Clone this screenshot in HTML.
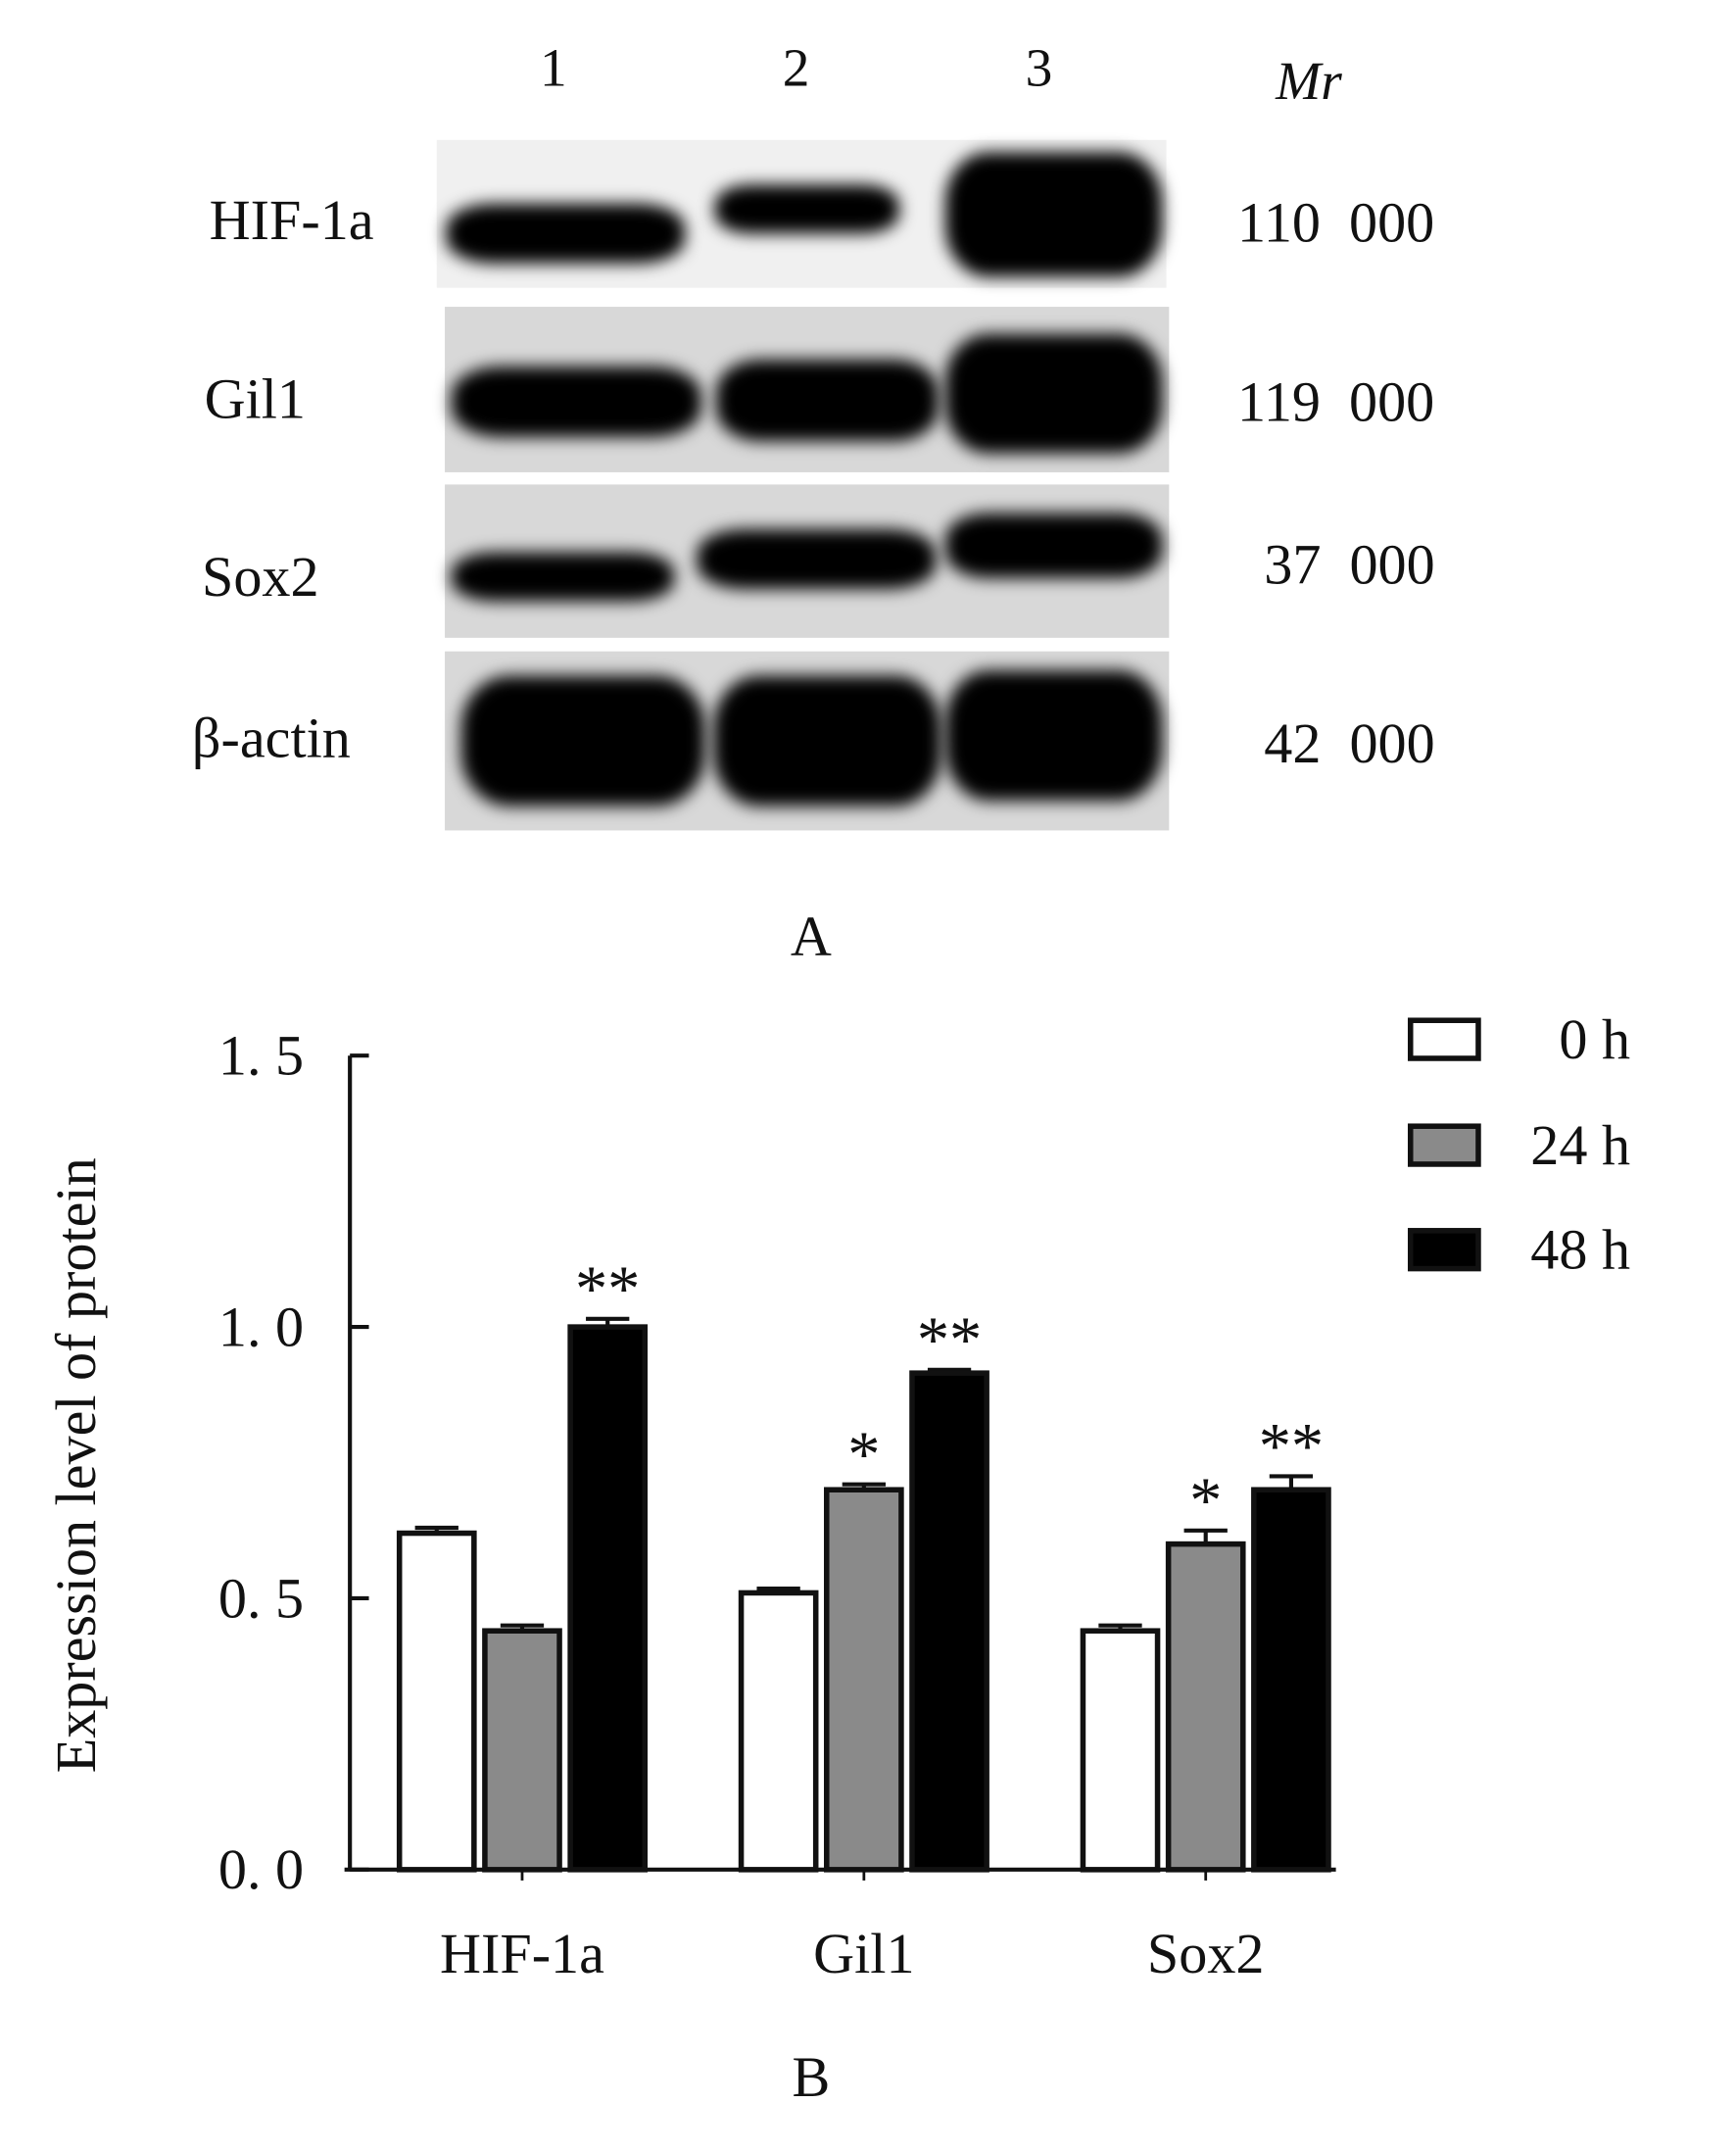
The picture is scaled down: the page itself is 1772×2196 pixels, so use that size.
<!DOCTYPE html>
<html><head><meta charset="utf-8"><style>
html,body{margin:0;padding:0;background:#fff;}
svg{display:block;}
text{font-family:"Liberation Serif",serif;fill:#111;white-space:pre;}
</style></head><body>
<svg id="fig" width="1772" height="2196" viewBox="0 0 1280 1586">
<defs>
<filter id="blur" x="-30%" y="-60%" width="160%" height="220%"><feGaussianBlur stdDeviation="6"/></filter>
</defs>
<g>
  <text x="408" y="63" font-size="40" text-anchor="middle">1</text>
  <text x="587" y="63" font-size="40" text-anchor="middle">2</text>
  <text x="766" y="63" font-size="40" text-anchor="middle">3</text>
  <text x="965" y="73" font-size="40" font-style="italic" text-anchor="middle">Mr</text>
  <g id="strips"></g>
  <text x="215" y="176" font-size="42" text-anchor="middle">HIF-1a</text>
  <text x="188" y="308" font-size="42" text-anchor="middle">Gil1</text>
  <text x="192" y="439" font-size="42" text-anchor="middle">Sox2</text>
  <text x="200" y="558" font-size="42" text-anchor="middle">β-actin</text>
  <text x="985" y="178" font-size="42" text-anchor="middle">110  000</text>
  <text x="985" y="310" font-size="42" text-anchor="middle">119  000</text>
  <text x="995" y="430" font-size="42" text-anchor="middle">37  000</text>
  <text x="995" y="562" font-size="42" text-anchor="middle">42  000</text>
  <text x="598" y="704" font-size="42" text-anchor="middle">A</text>
</g>
<g id="chart"></g>
<text x="598" y="1545" font-size="42" text-anchor="middle">B</text>
</svg>
<script>
const categories = ["HIF-1a", "Gil1", "Sox2"];
const seriesNames = ["0 h", "24 h", "48 h"];
const values0h = [0.62, 0.51, 0.44];
const values24h = [0.44, 0.70, 0.60];
const values48h = [1.00, 0.915, 0.70];
const errors0h = [0.01, 0.008, 0.01];
const errors24h = [0.01, 0.01, 0.025];
const errors48h = [0.015, 0.006, 0.025];
const stars24h = ["", "*", "*"];
const stars48h = ["**", "**", "**"];
const yTicks = [0, 0.5, 1.0, 1.5];
const yTickLabels = ["0. 0", "0. 5", "1. 0", "1. 5"];

const NS = "http://www.w3.org/2000/svg";
function mk(tag, attrs, parent){const e=document.createElementNS(NS,tag);for(const k in attrs)e.setAttribute(k,attrs[k]);parent.appendChild(e);return e;}

const strips = document.getElementById('strips');
const stripBoxes = [[322,103,538,109],[328,226,534,122],[328,357,534,113],[328,480,534,132]];
const bands = [
 [[417,172,88,22],[595,154,68,18],[777,158,80,46]],
 [[425,296,92,26],[610,295,82,30],[777,290,80,44]],
 [[415,425,82,18],[602,412,88,22],[777,402,80,24]],
 [[430,546,90,48],[610,546,84,48],[777,542,80,48]]
];
stripBoxes.forEach((b,i)=>{
  const r = mk('rect',{x:b[0],y:b[1],width:b[2],height:b[3],fill:i===0?'#f0f0f0':'#d8d8d8'},strips);
  
  
  bands[i].forEach(bd=>{
    const e = mk('rect',{x:bd[0]-bd[2],y:bd[1]-bd[3],width:2*bd[2],height:2*bd[3],rx:bd[2]*0.4,ry:bd[3]*0.8,fill:'#000',filter:'url(#blur)'},strips);
    
    
  });
});

const chart = document.getElementById('chart');
const x0 = 258, x1 = 985, yZero = 1378, pxPerUnit = 400;
const groupCenters0 = 385, groupStep = 252, barW = 55, barStep = 63;
const y = v => yZero - v*pxPerUnit;
const xBar = (g,s) => groupCenters0 + g*groupStep + (s-1)*barStep - barW/2;

const ax = mk('line',{x1:x0,y1:y(1.5),x2:x0,y2:yZero,stroke:'#111','stroke-width':3},chart);


const xa = mk('line',{x1:x0-4,y1:yZero,x2:x1,y2:yZero,stroke:'#111','stroke-width':3},chart);


yTicks.forEach((t,i)=>{
  const tk = mk('line',{x1:x0,y1:y(t),x2:x0+14,y2:y(t),stroke:'#111','stroke-width':3},chart);
  
  
  const tl = mk('text',{x:224,y:y(t)+14,'font-size':42,'text-anchor':'end'},chart);
  tl.textContent = yTickLabels[i];
  
  
});
const yt = mk('text',{x:70,y:1080,'font-size':42,'text-anchor':'middle',transform:'rotate(-90 70 1080)'},chart);
yt.textContent = 'Expression level of protein';



const series = [values0h, values24h, values48h];
const errs = [errors0h, errors24h, errors48h];
const fills = ['#ffffff','#8a8a8a','#000000'];
categories.forEach((c,g)=>{
  const cl = mk('text',{x:groupCenters0+g*groupStep,y:1454,'font-size':42,'text-anchor':'middle'},chart);
  cl.textContent = c;
  
  
  const tm = mk('line',{x1:groupCenters0+g*groupStep,y1:yZero,x2:groupCenters0+g*groupStep,y2:yZero+8,stroke:'#111','stroke-width':2},chart);
  
  
  series.forEach((vals,s)=>{
    const xb = xBar(g,s), top = y(vals[g]);
    const eTop = y(vals[g]+errs[s][g]);
    const el = mk('line',{x1:xb+barW/2,y1:eTop,x2:xb+barW/2,y2:top,stroke:'#111','stroke-width':3},chart);
    
    
    const ec = mk('line',{x1:xb+barW/2-16,y1:eTop,x2:xb+barW/2+16,y2:eTop,stroke:'#111','stroke-width':3},chart);
    
    
    const r = mk('rect',{x:xb,y:top,width:barW,height:yZero-top,fill:fills[s],stroke:'#111','stroke-width':4},chart);
    
    
    const st = s===1 ? stars24h[g] : (s===2 ? stars48h[g] : '');
    if(st){
      const t = mk('text',{x:xb+barW/2,y:eTop-6,'font-size':48,'text-anchor':'middle'},chart);
      t.textContent = st;
      
      
    }
  });
});
const legY = [752, 830, 907];
seriesNames.forEach((n,i)=>{
  const r = mk('rect',{x:1040,y:legY[i],width:50,height:28,fill:fills[i],stroke:'#111','stroke-width':4},chart);
  
  
  const t = mk('text',{x:1202,y:legY[i]+28,'font-size':42,'text-anchor':'end'},chart);
  t.textContent = n;
  
  
});
</script>
</body></html>
